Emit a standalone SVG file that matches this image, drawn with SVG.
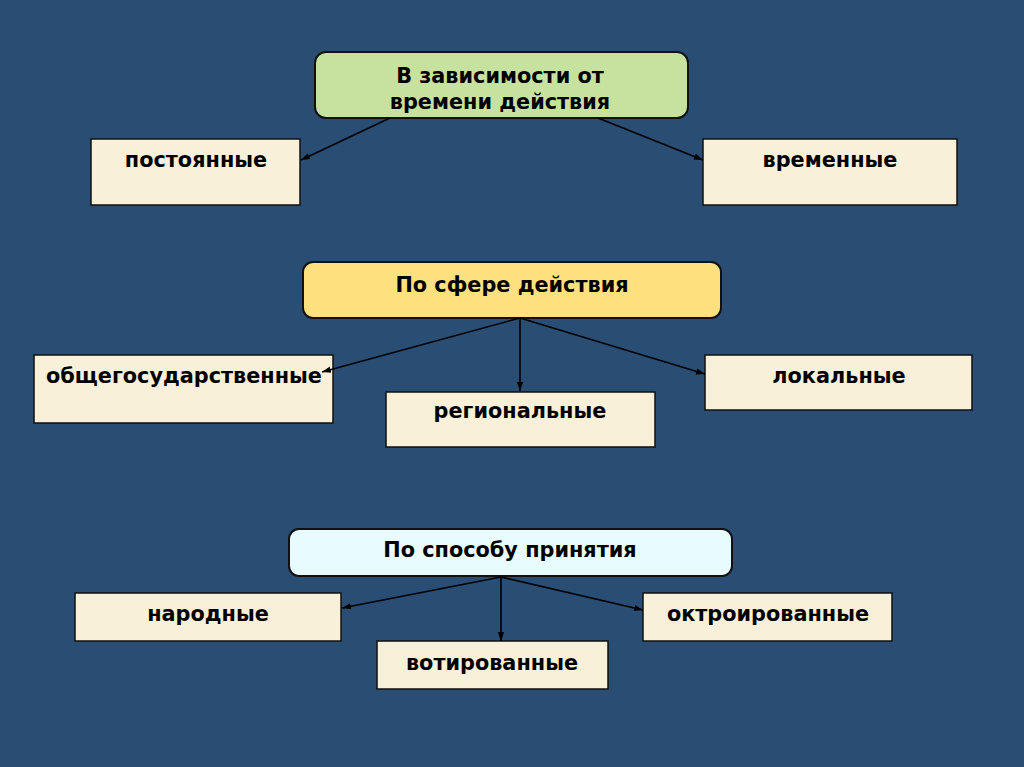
<svg xmlns="http://www.w3.org/2000/svg" width="1024" height="767" viewBox="0 0 1024 767">
<defs>
<marker id="ah" viewBox="0 0 10 10" refX="10" refY="5" markerWidth="9" markerHeight="9" orient="auto" markerUnits="userSpaceOnUse">
<path d="M0,1.5 L10,5 L0,8.5 Z" fill="#000"/>
</marker>
<style>
.head{stroke:#111;stroke-width:2}
.leaf{fill:#f9f0d9;stroke:#111;stroke-width:1.5}
.t{font-family:"DejaVu Sans","Liberation Sans",sans-serif;font-weight:bold;font-size:20.8px;fill:#000;text-anchor:middle}
.c{stroke:#000;stroke-width:1.6;fill:none;marker-end:url(#ah)}
</style>
</defs>
<rect width="1024" height="767" fill="#294d73"/>
<g id="time">
<rect class="head" x="315" y="52" width="373" height="66" rx="11" fill="#c6e29e"/>
<text class="t" x="500" y="83">В зависимости от</text>
<text class="t" x="500" y="109">времени действия</text>
</g>
<g id="permanent">
<rect class="leaf" x="91" y="139" width="209" height="66"/>
<text class="t" x="196" y="167">постоянные</text>
</g>
<g id="temporary">
<rect class="leaf" x="703" y="139" width="254" height="66"/>
<text class="t" x="830" y="167">временные</text>
</g>
<g id="scope">
<rect class="head" x="303" y="262" width="418" height="56" rx="10" fill="#fde17f"/>
<text class="t" x="512" y="292">По сфере действия</text>
</g>
<g id="national">
<rect class="leaf" x="34" y="355" width="299" height="68"/>
<text class="t" x="184" y="383">общегосударственные</text>
</g>
<g id="regional">
<rect class="leaf" x="386" y="392" width="269" height="55"/>
<text class="t" x="520" y="418">региональные</text>
</g>
<g id="local">
<rect class="leaf" x="705" y="355" width="267" height="55"/>
<text class="t" x="839" y="383">локальные</text>
</g>
<g id="adoption">
<rect class="head" x="289" y="529" width="443" height="47" rx="10" fill="#e8fcfd"/>
<text class="t" x="510" y="557">По способу принятия</text>
</g>
<g id="popular">
<rect class="leaf" x="75" y="593" width="266" height="48"/>
<text class="t" x="208" y="621">народные</text>
</g>
<g id="voted">
<rect class="leaf" x="377" y="641" width="231" height="48"/>
<text class="t" x="492" y="670">вотированные</text>
</g>
<g id="octroyed">
<rect class="leaf" x="643" y="593" width="249" height="48"/>
<text class="t" x="768" y="621">октроированные</text>
</g>
<g id="connectors">
<line class="c" x1="390" y1="118" x2="301" y2="160"/>
<line class="c" x1="598" y1="118" x2="703" y2="160"/>
<line class="c" x1="520" y1="318" x2="322" y2="372"/>
<line class="c" x1="520" y1="318" x2="520" y2="391"/>
<line class="c" x1="520" y1="318" x2="705" y2="374"/>
<line class="c" x1="501" y1="577" x2="342" y2="608"/>
<line class="c" x1="501" y1="577" x2="501" y2="641"/>
<line class="c" x1="501" y1="577" x2="643" y2="610"/>
</g>
</svg>
